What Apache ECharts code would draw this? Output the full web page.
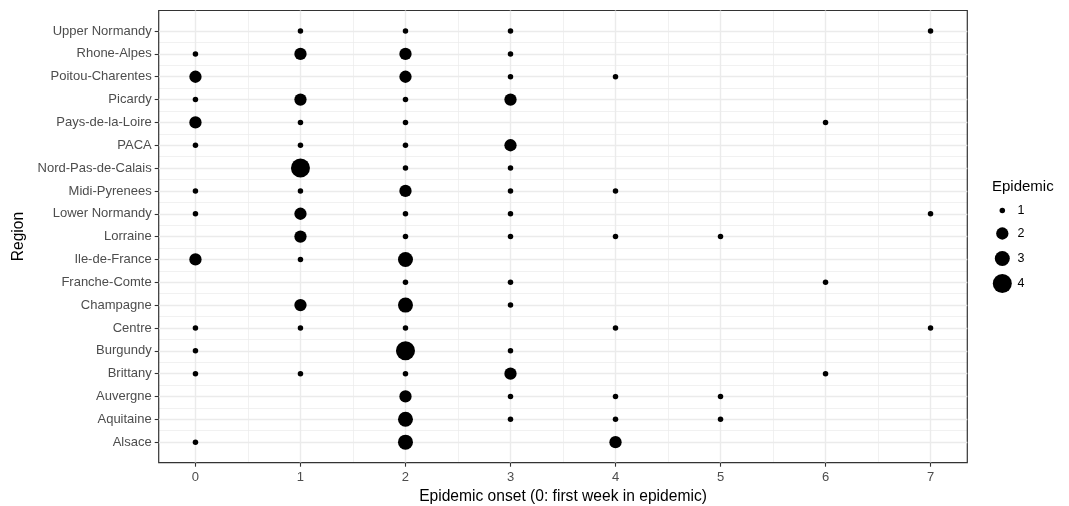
<!DOCTYPE html>
<html>
<head>
<meta charset="utf-8">
<script src="https://cdn.jsdelivr.net/npm/echarts@6/dist/echarts.min.js"></script>
<style>
html,body{margin:0;padding:0;background:#fff;}
#chart{width:1069px;height:506px;}
</style>
</head>
<body>
<div id="chart"></div>
<script>
// Regions, bottom to top
const regions = ["Alsace","Aquitaine","Auvergne","Brittany","Burgundy","Centre","Champagne","Franche-Comte","Ile-de-France","Lorraine","Lower Normandy","Midi-Pyrenees","Nord-Pas-de-Calais","PACA","Pays-de-la-Loire","Picardy","Poitou-Charentes","Rhone-Alpes","Upper Normandy"];
// Epidemic counts per region (same order), one array per onset week (0 = no point)
const week0 = [1,0,0,1,1,1,0,0,2,0,1,1,0,1,2,1,2,1,0];
const week1 = [0,0,0,1,0,1,2,0,1,2,2,1,4,1,1,2,0,2,1];
const week2 = [3,3,2,1,4,1,3,1,3,1,1,2,1,1,1,1,2,2,1];
const week3 = [0,1,1,2,1,0,1,1,0,1,1,1,1,2,0,2,1,1,1];
const week4 = [2,1,1,0,0,1,0,0,0,1,0,1,0,0,0,0,1,0,0];
const week5 = [0,1,1,0,0,0,0,0,0,1,0,0,0,0,0,0,0,0,0];
const week6 = [0,0,0,1,0,0,0,1,0,0,0,0,0,0,1,0,0,0,0];
const week7 = [0,0,0,0,0,1,0,0,0,0,1,0,0,0,0,0,0,0,1];
const weeks = [week0,week1,week2,week3,week4,week5,week6,week7];
const xTicks = [0,1,2,3,4,5,6,7];
const epidemicLevels = [1,2,3,4];
const levelDiameters = [5.5, 12.3, 15, 19];

const yTicks = regions.map((_, i) => i);
const yMinor = regions.slice(1).map((_, i) => i + 0.5);
const xMinor = xTicks.slice(1).map(v => v - 0.5);

const FONT = "Liberation Sans, Arial, sans-serif";

const series = epidemicLevels.map((lvl, li) => {
  const data = [];
  weeks.forEach((arr, w) => {
    arr.forEach((c, r) => { if (c === lvl) data.push([w, r]); });
  });
  return {
    name: String(lvl),
    type: 'scatter',
    xAxisIndex: 0,
    yAxisIndex: 0,
    symbol: 'circle',
    symbolSize: levelDiameters[li],
    itemStyle: {color: '#000000', opacity: 1},
    emphasis: {disabled: true},
    silent: true,
    z: 5,
    data: data
  };
});

const legendCx = 1002.3;
const legendTextX = 1017.6;
const legendTops = [204, 227, 251, 274];
const legends = epidemicLevels.map((lvl, li) => {
  const d = levelDiameters[li];
  return {
    data: [{name: String(lvl), icon: 'circle'}],
    left: legendCx - d / 2,
    top: legendTops[li],
    padding: 0,
    itemWidth: d,
    itemHeight: d,
    itemGap: 0,
    selectedMode: false,
    textStyle: {fontFamily: FONT, fontSize: 12.5, color: '#000000',
                padding: [0, 0, 0, Math.max(0, legendTextX - (legendCx + d / 2 + 5))]}
  };
});

const chart = echarts.init(document.getElementById('chart'), null, {renderer: 'canvas'});
chart.setOption({
  animation: false,
  backgroundColor: '#ffffff',
  textStyle: {fontFamily: FONT},
  grid: {left: 158.7, right: 101.7, top: 10.5, bottom: 43.3, show: true,
         outerBoundsMode: 'none', containLabel: false,
         borderColor: '#333333', borderWidth: 1.2, backgroundColor: 'transparent'},
  legend: legends,
  xAxis: [
    {type: 'value', min: -0.35, max: 7.35, position: 'bottom',
     name: 'Epidemic onset (0: first week in epidemic)', nameLocation: 'middle', nameGap: 24,
     nameTextStyle: {fontFamily: FONT, fontSize: 15.6, color: '#000000'},
     axisLine: {show: false, onZero: false},
     axisTick: {show: true, customValues: xTicks, length: 4, lineStyle: {color: '#333333', width: 1.1}},
     axisLabel: {customValues: xTicks, color: '#4D4D4D', fontSize: 13, fontFamily: FONT, margin: 8},
     splitLine: {show: true, lineStyle: {color: '#EBEBEB', width: 1.4}}
    },
    {type: 'value', min: -0.35, max: 7.35, position: 'bottom', z: -1,
     axisLine: {show: false, onZero: false},
     axisTick: {show: false, customValues: xMinor},
     axisLabel: {show: false},
     splitLine: {show: true, lineStyle: {color: '#EBEBEB', width: 0.7}}
    }
  ],
  yAxis: [
    {type: 'value', min: -0.9, max: 18.9, position: 'left',
     name: 'Region', nameLocation: 'middle', nameGap: 126, nameRotate: 90,
     nameTextStyle: {fontFamily: FONT, fontSize: 15.6, color: '#000000'},
     axisLine: {show: false, onZero: false},
     axisTick: {show: true, customValues: yTicks, length: 4, lineStyle: {color: '#333333', width: 1.1}},
     axisLabel: {customValues: yTicks, color: '#4D4D4D', fontSize: 13, fontFamily: FONT, margin: 7,
                 formatter: v => regions[Math.round(v)]},
     splitLine: {show: true, lineStyle: {color: '#EBEBEB', width: 1.4}}
    },
    {type: 'value', min: -0.9, max: 18.9, position: 'left', z: -1,
     axisLine: {show: false, onZero: false},
     axisTick: {show: false, customValues: yMinor},
     axisLabel: {show: false},
     splitLine: {show: true, lineStyle: {color: '#EBEBEB', width: 0.7}}
    }
  ],
  graphic: [
    {type: 'text', left: 992, top: 179,
     style: {text: 'Epidemic', fontFamily: FONT, fontSize: 15, fill: '#000000'}}
  ],
  series: series
});
</script>
</body>
</html>
